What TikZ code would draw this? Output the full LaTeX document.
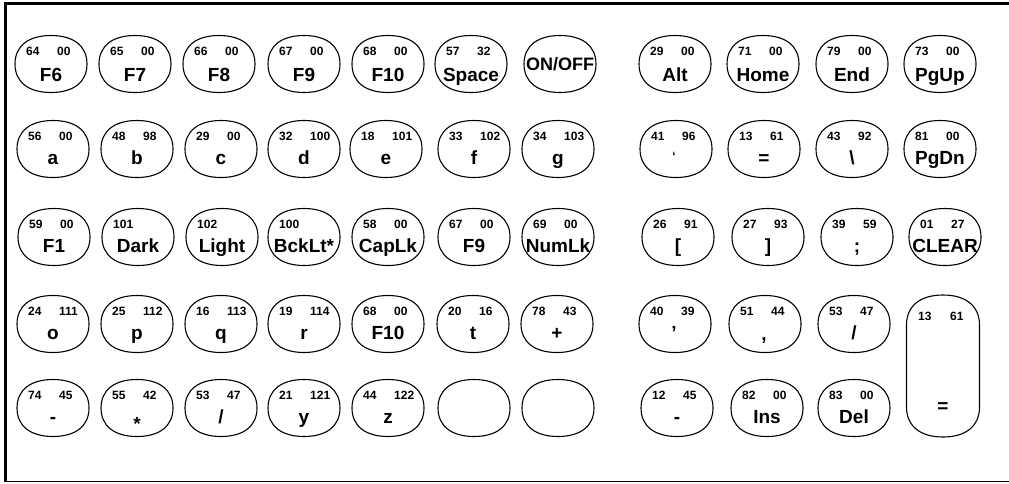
\documentclass[tikz,border=0pt]{standalone}
\usepackage{fontspec}
\setmainfont{Liberation Sans}
\usetikzlibrary{calc}
\tikzset{
  keyline/.style={line width=1.1pt},
  keybody/.style={minimum width=72pt,minimum height=57pt,inner sep=0pt},
  tallbody/.style={minimum width=73pt,minimum height=142pt,inner sep=0pt},
  numtxt/.style={font=\bfseries\fontsize{12}{12}\selectfont,inner sep=0pt},
  labtxt/.style={font=\bfseries\fontsize{19}{19}\selectfont,inner sep=0pt},
  smalltxt/.style={font=\bfseries\fontsize{12}{12}\selectfont,inner sep=0pt},
  frameline/.style={line width=3pt},
  baseline/.style={line width=1.5pt},
}
\def\kk{0.63}
\def\labdy{15}
% outline: node name, half width, half height, vertical extent of the rounded ends
\newcommand\keyoutline[4]{%
  \draw[keyline,shift={(#1.center)}]
    (#2,{#4-#3}) .. controls (#2,{#4-#3-\kk*#4}) and ({\kk*#2},-#3) .. (0,-#3)
    .. controls ({-\kk*#2},-#3) and (-#2,{#4-#3-\kk*#4}) .. (-#2,{#4-#3})
    -- (-#2,{#3-#4})
    .. controls (-#2,{#3-#4+\kk*#4}) and ({-\kk*#2},#3) .. (0,#3)
    .. controls ({\kk*#2},#3) and (#2,{#3-#4+\kk*#4}) .. (#2,{#3-#4}) -- cycle;}
% key: name, x, y, left number, right number, label
\newcommand\kb[6]{%
  \node[keybody] (#1) at (#2,#3) {};
  \keyoutline{#1}{36}{28.5}{28.5}
  \if\relax\detokenize{#4}\relax\else
    \node[numtxt,anchor=base west] (#1-l) at ($(#1.center)+(-25,-8.5)$) {#4};\fi
  \if\relax\detokenize{#5}\relax\else
    \node[numtxt,anchor=base west] (#1-r) at ($(#1.center)+(6,-8.5)$) {#5};\fi
  \if\relax\detokenize{#6}\relax\else
    \node[labtxt,anchor=base] (#1-t) at ($(#1.center)+(0,\labdy)$) {#6};\fi
}
\begin{document}
\begin{tikzpicture}[x=1pt,y=-1pt]
\useasboundingbox (0,0) rectangle (1009,483);
% frame
\coordinate (fbl) at (5.5,481.5);
\coordinate (ftl) at (5.5,3.5);
\coordinate (ftr) at (1009,3.5);
\coordinate (fbr) at (1009,481.5);
\draw[frameline] (fbl) -- (ftl) -- (ftr);
\draw[baseline] (fbl) -- (fbr);

% row 1
\def\labdy{17}
\kb{f6}{51}{64}{64}{00}{F6}
\kb{f7}{135}{64}{65}{00}{F7}
\kb{f8}{219}{64}{66}{00}{F8}
\kb{f9a}{304}{64}{67}{00}{F9}
\kb{f10a}{388}{64}{68}{00}{F10}
\kb{space}{471}{64}{57}{32}{Space}
\kb{onoff}{560}{64}{}{}{}
\node[labtxt,font=\bfseries\fontsize{18}{18}\selectfont] (onoff-t) at (onoff.center) {ON/OFF};
\kb{alt}{675}{64}{29}{00}{Alt}
\kb{home}{763}{64}{71}{00}{Home}
\kb{end}{852}{64}{79}{00}{End}
\kb{pgup}{940}{64}{73}{00}{PgUp}

% row 2
\def\labdy{15}
\kb{ka}{53}{149}{56}{00}{a}
\kb{kb}{137}{149}{48}{98}{b}
\kb{kc}{221}{149}{29}{00}{c}
\kb{kd}{304}{149}{32}{100}{d}
\kb{ke}{386}{149}{18}{101}{e}
\kb{kf}{474}{149}{33}{102}{f}
\kb{kg}{558}{149}{34}{103}{g}
\kb{bq}{676}{149}{41}{96}{}
\node[smalltxt,anchor=base] (bq-t) at ($(bq.center)+(-2,11)$) {‘};
\kb{eqa}{764}{149}{13}{61}{=}
\kb{bsl}{852}{149}{43}{92}{\textbackslash}
\kb{pgdn}{940}{149}{81}{00}{PgDn}

% row 3
\kb{f1}{54}{237}{59}{00}{F1}
\kb{dark}{138}{237}{101}{}{Dark}
\kb{light}{222}{237}{102}{}{Light}
\kb{bcklt}{304}{237}{100}{}{BckLt*}
\kb{caplk}{388}{237}{58}{00}{CapLk}
\kb{f9b}{474}{237}{67}{00}{F9}
\kb{numlk}{558}{237}{69}{00}{NumLk}
\kb{lbr}{678}{237}{26}{91}{[}
\kb{rbr}{768}{237}{27}{93}{]}
\kb{semi}{857}{237}{39}{59}{;}
\kb{clear}{945}{237}{01}{27}{CLEAR}

% row 4
\kb{ko}{53}{324}{24}{111}{o}
\kb{kp}{137}{324}{25}{112}{p}
\kb{kq}{221}{324}{16}{113}{q}
\kb{kr}{304}{324}{19}{114}{r}
\kb{f10b}{388}{324}{68}{00}{F10}
\kb{kt}{473}{324}{20}{16}{t}
\kb{plus}{557}{324}{78}{43}{+}
\kb{apos}{675}{324}{40}{39}{}
\node[labtxt,anchor=base] (apos-t) at ($(apos.center)+(-1,15)$) {’};
\kb{comma}{765}{324}{51}{44}{}
\node[labtxt,anchor=base] (comma-t) at ($(comma.center)+(-1,16)$) {,};
\kb{slasha}{854}{324}{53}{47}{/}
\node[tallbody] (tall) at (943,366) {};
\keyoutline{tall}{36.5}{71}{30}
\node[numtxt,anchor=base west] (tall-l) at ($(tall.center)+(-25,-46)$) {13};
\node[numtxt,anchor=base west] (tall-r) at ($(tall.center)+(7,-46)$) {61};
\node[labtxt,anchor=base] (tall-t) at ($(tall.center)+(0,46)$) {=};

% row 5
\kb{minusa}{53}{408}{74}{45}{-}
\kb{star}{137}{408}{55}{42}{}
\node[labtxt,anchor=base] (star-t) at ($(star.center)+(0,22)$) {*};
\kb{slashb}{221}{408}{53}{47}{/}
\kb{ky}{304}{408}{21}{121}{y}
\kb{kz}{388}{408}{44}{122}{z}
\kb{blanka}{474}{408}{}{}{}
\kb{blankb}{558}{408}{}{}{}
\kb{minusb}{677}{408}{12}{45}{-}
\kb{ins}{767}{408}{82}{00}{Ins}
\kb{del}{854}{408}{83}{00}{Del}
\end{tikzpicture}
\end{document}
